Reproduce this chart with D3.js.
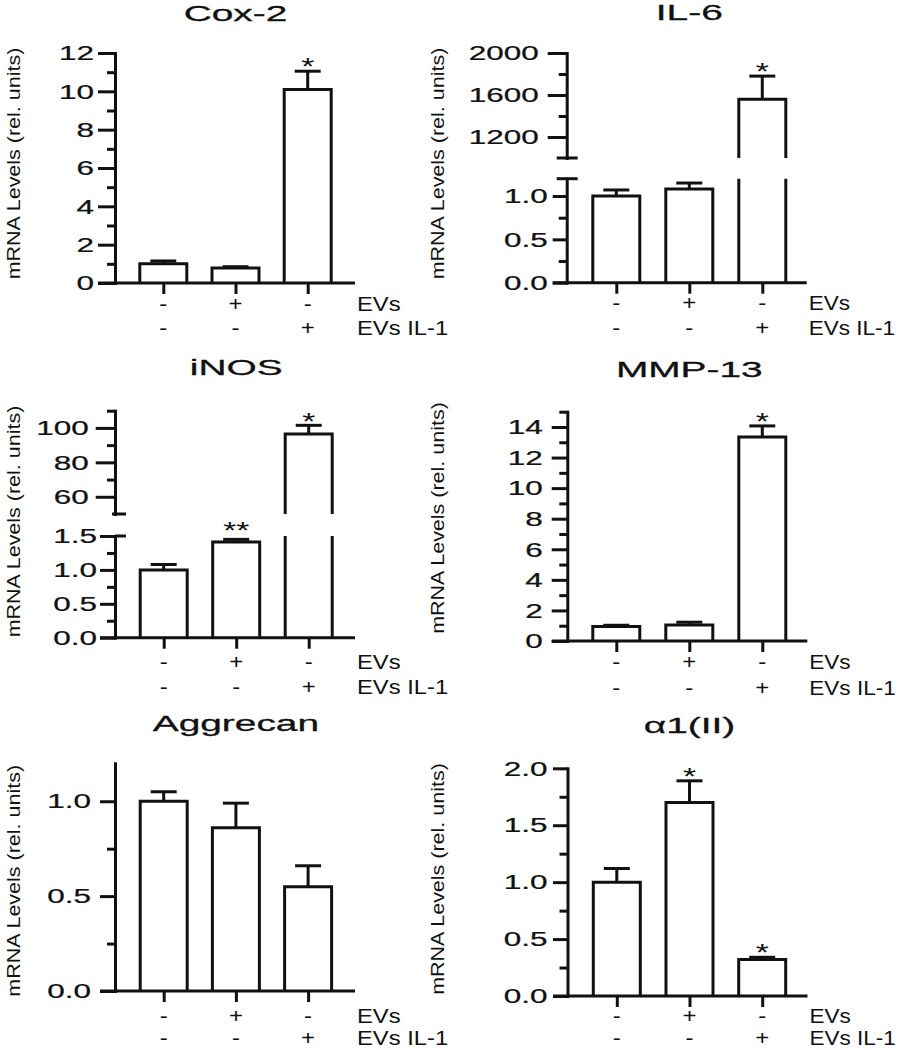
<!DOCTYPE html>
<html><head><meta charset="utf-8">
<script src="https://cdn.jsdelivr.net/npm/d3@7"></script>
<style>body{margin:0;background:#fff}svg{display:block}</style>
</head><body>
<svg id="c" width="899" height="1050"></svg>
<script>
// ---------------- DATA ----------------
const groups = ["ctrl", "EVs", "EVs IL-1"];
const rowNames = ["EVs", "EVs IL-1"];
const rowEVs = ["-", "+", "-"];
const rowEVsIL1 = ["-", "-", "+"];
const titles = ["Cox-2", "IL-6", "iNOS", "MMP-13", "Aggrecan", "α1(II)"];
const yLabel = "mRNA Levels (rel. units)";

const cox2Mean = [1.0, 0.78, 10.1];
const cox2Err = [0.15, 0.07, 0.95];
const cox2Stars = ["", "", "*"];
const cox2Ticks = [0, 2, 4, 6, 8, 10, 12];
const cox2Minor = [1, 3, 5, 7, 9, 11];

const il6Mean = [1.0, 1.08, 1560];
const il6Err = [0.07, 0.07, 220];
const il6Stars = ["", "", "*"];
const il6TicksLow = [0.0, 0.5, 1.0];
const il6MinorLow = [0.25, 0.75];
const il6TicksHigh = [1200, 1600, 2000];
const il6MinorHigh = [1400, 1800];

const inosMean = [1.0, 1.41, 96.5];
const inosErr = [0.08, 0.04, 5];
const inosStars = ["", "**", "*"];
const inosTicksLow = [0.0, 0.5, 1.0, 1.5];
const inosMinorLow = [0.25, 0.75, 1.25];
const inosTicksHigh = [60, 80, 100];
const inosMinorHigh = [70, 90, 110];

const mmpMean = [0.95, 1.05, 13.35];
const mmpErr = [0.08, 0.18, 0.72];
const mmpStars = ["", "", "*"];
const mmpTicks = [0, 2, 4, 6, 8, 10, 12, 14];
const mmpMinor = [1, 3, 5, 7, 9, 11, 13, 15];

const aggMean = [1.0, 0.86, 0.55];
const aggErr = [0.05, 0.13, 0.11];
const aggStars = ["", "", ""];
const aggTicks = [0.0, 0.5, 1.0];
const aggMinor = [0.25, 0.75];

const colMean = [1.0, 1.70, 0.32];
const colErr = [0.12, 0.19, 0.02];
const colStars = ["", "*", "*"];
const colTicks = [0.0, 0.5, 1.0, 1.5, 2.0];
const colMinor = [0.25, 0.75, 1.25, 1.75];

// ---------------- LAYOUT ----------------
const FONT = "'Liberation Sans', Arial, Helvetica, sans-serif";
const INK = "#111";
const fInt = d3.format("d"), f1 = d3.format(".1f");

const panels = [
  {title: titles[0], mean: cox2Mean, err: cox2Err, stars: cox2Stars,
   ax: 115, off: 48.3, step: 72.2, titleY: 20.7, rowBase: [27.7, 52.3], rowSx: 1.16, ylab: [13.3, 163.5],
   segs: [{domain: [0, 12], range: [283, 53], major: cox2Ticks, minor: cox2Minor, fmt: fInt, len: 17, pad: 4}]},
  {title: titles[1], mean: il6Mean, err: il6Err, stars: il6Stars,
   ax: 566.7, off: 49.6, step: 73, titleY: 19.5, rowBase: [27.7, 52.5], rowSx: 1.1, ylab: [438, 163.5],
   segs: [{domain: [0, 1.2], range: [282.7, 178.7], major: il6TicksLow, minor: il6MinorLow, fmt: f1, len: 14, pad: 5, cap: [-10, 11]},
          {domain: [1000, 2000], range: [158, 53], major: il6TicksHigh, minor: il6MinorHigh, fmt: fInt, len: 19, pad: 9, cap: [-10, 11]}]},
  {title: titles[2], mean: inosMean, err: inosErr, stars: inosStars,
   ax: 115, off: 48.7, step: 72.5, titleY: 375, rowBase: [31.3, 56.3], rowSx: 1.16, ylab: [13.3, 521.5],
   segs: [{domain: [0, 1.5], range: [637.7, 536], major: inosTicksLow, minor: inosMinorLow, fmt: f1, len: 15, pad: 3, cap: [0, 11]},
          {domain: [50, 110], range: [514, 410.7], major: inosTicksHigh, minor: inosMinorHigh, fmt: fInt, len: 19.3, pad: 7, cap: [-3, 11]}]},
  {title: titles[3], mean: mmpMean, err: mmpErr, stars: mmpStars,
   ax: 567.3, off: 49, step: 73, titleY: 377.3, rowBase: [28, 54], rowSx: 1.1, ylab: [438, 518],
   segs: [{domain: [0, 15], range: [641, 411.7], major: mmpTicks, minor: mmpMinor, fmt: fInt, len: 15.6, pad: 9}]},
  {title: titles[4], mean: aggMean, err: aggErr, stars: aggStars,
   ax: 115, off: 48.7, step: 72.2, titleY: 730.7, rowBase: [32, 54], rowSx: 1.16, ylab: [13.3, 880.8],
   segs: [{domain: [0, 1.2], range: [991, 763.3], major: aggTicks, minor: aggMinor, fmt: f1, len: 15, pad: 9}]},
  {title: titles[5], mean: colMean, err: colErr, stars: colStars,
   ax: 567.5, off: 49.3, step: 72.7, titleY: 733, rowBase: [27.3, 49.3], rowSx: 1.1, ylab: [438, 879],
   segs: [{domain: [0, 2], range: [996, 768.3], major: colTicks, minor: colMinor, fmt: f1, len: 14.5, pad: 5.5}]}
];

const svg = d3.select("#c").attr("font-family", FONT).attr("fill", INK);
const SW = 3;

function sText(g, x, y, str, size, sx, anchor) {
  return g.append("text")
    .attr("transform", `translate(${x},${y}) scale(${sx},1)`)
    .attr("text-anchor", anchor).attr("font-size", size)
    .attr("fill", INK).text(str);
}

function drawPanel(p) {
  const g = svg.append("g");
  const segs = p.segs.map(s => Object.assign({}, s, {scale: d3.scaleLinear().domain(s.domain).range(s.range)}));
  const y0 = segs[0].range[0];
  const ax = p.ax;
  const x = d3.scalePoint().domain(groups).range([ax + p.off, ax + p.off + 2 * p.step]);
  const barW = 47, capW = 26;

  // y axis segments
  segs.forEach((s, i) => {
    const axis = d3.axisLeft(s.scale).tickValues(s.major).tickSize(s.len)
      .tickSizeOuter(0).tickPadding(s.pad).tickFormat(s.fmt);
    const ga = g.append("g").attr("transform", `translate(${ax},0)`).call(axis)
      .attr("font-family", FONT).attr("font-size", 21);
    ga.select(".domain").attr("stroke", INK).attr("stroke-width", SW).attr("stroke-linecap", "square");
    ga.selectAll(".tick line").attr("stroke", INK).attr("stroke-width", SW);
    ga.selectAll(".tick text").attr("fill", INK).attr("stroke", INK).attr("stroke-width", 0.25).each(function () {
      const t = d3.select(this);
      const tx = +t.attr("x");
      t.attr("x", null).attr("transform", `translate(${tx},0) scale(1.5,1)`);
    });
    const minor = d3.axisLeft(s.scale).tickValues(s.minor).tickSize(8).tickSizeOuter(0).tickFormat("");
    const gm = g.append("g").attr("transform", `translate(${ax},0)`).call(minor);
    gm.select(".domain").remove();
    gm.selectAll(".tick line").attr("stroke", INK).attr("stroke-width", SW);
    // break caps
    if (s.cap) {
      const yc = i < segs.length - 1 ? s.range[1] : s.range[0];
      g.append("line").attr("x1", ax + s.cap[0]).attr("x2", ax + s.cap[1])
        .attr("y1", yc).attr("y2", yc).attr("stroke", INK).attr("stroke-width", SW);
    }
  });

  // x axis
  g.append("line").attr("x1", ax - segs[0].len).attr("x2", ax + 240)
    .attr("y1", y0).attr("y2", y0).attr("stroke", INK).attr("stroke-width", SW);
  const gx = g.append("g").attr("transform", `translate(0,${y0})`)
    .call(d3.axisBottom(x).tickSize(11).tickFormat(""));
  gx.select(".domain").remove();
  gx.selectAll(".tick line").attr("stroke", INK).attr("stroke-width", SW);

  // bars
  const segOf = v => segs.findIndex(s => v >= s.domain[0] && v <= s.domain[1]);
  groups.forEach((gr, i) => {
    const v = p.mean[i], e = p.err[i];
    const cx = x(gr), xl = cx - barW / 2, xr = cx + barW / 2;
    const k = segOf(v);
    const path = d3.path();
    if (k === 0) {
      const yt = segs[0].scale(v);
      path.moveTo(xl, y0); path.lineTo(xl, yt); path.lineTo(xr, yt); path.lineTo(xr, y0);
    } else {
      for (let j = 0; j < k; j++) {
        const sb = j === 0 ? y0 : segs[j].range[0], st = segs[j].range[1];
        path.moveTo(xl, sb); path.lineTo(xl, st);
        path.moveTo(xr, sb); path.lineTo(xr, st);
      }
      const yb = segs[k].range[0], yt = segs[k].scale(v);
      path.moveTo(xl, yb); path.lineTo(xl, yt); path.lineTo(xr, yt); path.lineTo(xr, yb);
    }
    g.append("path").attr("d", path.toString()).attr("fill", "none")
      .attr("stroke", INK).attr("stroke-width", SW).attr("stroke-linejoin", "miter");

    // error bar (upward)
    const ks = segOf(v + e) >= 0 ? segOf(v + e) : k;
    const ytop = segs[k].scale(v), ycap = segs[ks].scale(v + e);
    g.append("line").attr("x1", cx).attr("x2", cx).attr("y1", ytop).attr("y2", ycap)
      .attr("stroke", INK).attr("stroke-width", SW);
    g.append("line").attr("x1", cx - capW / 2).attr("x2", cx + capW / 2)
      .attr("y1", ycap).attr("y2", ycap).attr("stroke", INK).attr("stroke-width", SW);

    // significance
    const st = p.stars[i];
    if (st) {
      const gap = 9.5 + (st.length - 1) * 4.5;
      sText(g, cx, ycap - gap + 13.7, st, 24, 1.4, "middle");
    }

    // condition signs
    sText(g, cx, y0 + p.rowBase[0], rowEVs[i], 20.5, 1.17, "middle");
    sText(g, cx, y0 + p.rowBase[1], rowEVsIL1[i], 20.5, 1.17, "middle");
  });

  // row names
  rowNames.forEach((r, j) => sText(g, ax + 242, y0 + p.rowBase[j], r, 20.5, p.rowSx, "start"));

  // title
  sText(g, x(groups[1]), p.titleY, p.title, 23, 1.69, "middle")
    .attr("stroke", INK).attr("stroke-width", 0.3);

  // y label
  g.append("text")
    .attr("transform", `translate(${p.ylab[0]},${p.ylab[1]}) rotate(-90) scale(1,0.87)`)
    .attr("text-anchor", "middle").attr("dominant-baseline", "central")
    .attr("font-size", 21.5).attr("fill", INK).text(yLabel);
}

panels.forEach(drawPanel);
</script>
</body></html>
